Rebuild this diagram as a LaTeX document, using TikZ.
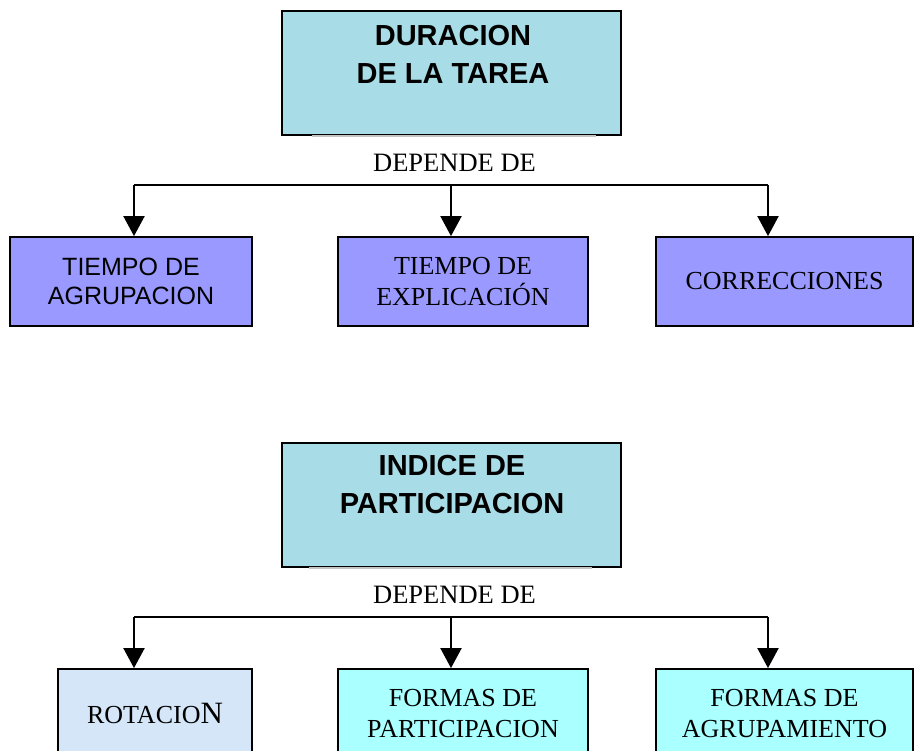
\documentclass[tikz,border=0pt]{standalone}
\usepackage{fontspec}
\setmainfont{Liberation Serif}
\setsansfont{Liberation Sans}
\usetikzlibrary{arrows.meta}

\definecolor{watercol}{HTML}{A8DCE6}
\definecolor{bluecol}{HTML}{9999FF}
\definecolor{cyancol}{HTML}{AAFFFF}
\definecolor{palecol}{HTML}{D4E6F8}
\definecolor{gapcol}{HTML}{C4C4C4}

\begin{document}
\begin{tikzpicture}[x=1pt,y=-1pt,
    titlebox/.style={draw,line width=1.8pt,fill=watercol,minimum width=339pt,minimum height=124pt,inner sep=0pt},
    titletext/.style={font=\sffamily\bfseries\fontsize{29}{38}\selectfont,align=center,inner sep=0pt},
    gapline/.style={gapcol,line width=1.9pt},
    deptext/.style={font=\fontsize{26.5}{30}\selectfont,inner sep=0pt},
    itembox/.style={draw,line width=1.8pt,minimum height=89pt,inner sep=0pt,align=center},
    sanstext/.style={font=\sffamily\fontsize{25}{29}\selectfont},
    serftext/.style={font=\fontsize{26}{31}\selectfont},
    link/.style={line width=2pt},
    arrow/.style={line width=2pt,-{Triangle[width=21pt,length=20pt]}}]
  \useasboundingbox (0,0) rectangle (914,751);

  % first tree
  \node[titlebox] (dur) at (451.5,73) {};
  \draw[gapline] ([xshift=31pt]dur.south west) -- ([xshift=-26pt]dur.south east);
  \node[titletext] (durtxt) at (453,54) {DURACION\\DE LA TAREA};
  \node[deptext] (dep1) at (454.5,162.5) {DEPENDE DE};

  \node[itembox,sanstext,fill=bluecol,minimum width=242pt] (agrup) at (131,281.5) {TIEMPO DE\\AGRUPACION};
  \node[itembox,serftext,fill=bluecol,minimum width=250pt] (explic) at (463,281.5) {TIEMPO DE\\EXPLICACIÓN};
  \node[itembox,serftext,fill=bluecol,minimum width=257pt] (correc) at (784.5,281.5) {CORRECCIONES};

  \coordinate (ja) at (134,185);
  \coordinate (jb) at (451,185);
  \coordinate (jc) at (768,185);
  \draw[link] (ja) -- (jc);
  \draw[arrow] (ja) -- (ja |- agrup.north);
  \draw[arrow] (jb) -- (jb |- explic.north);
  \draw[arrow] (jc) -- (jc |- correc.north);

  % second tree
  \node[titlebox] (indice) at (451.5,505) {};
  \draw[gapline] ([xshift=28pt]indice.south west) -- ([xshift=-30pt]indice.south east);
  \node[titletext] (indtxt) at (452,484.5) {INDICE DE\\PARTICIPACION};
  \node[deptext] (dep2) at (454.5,594.5) {DEPENDE DE};

  \node[itembox,serftext,fill=palecol,minimum width=194pt] (rot) at (155,713.5) {ROTACIO{\fontsize{31}{31}\selectfont N}};
  \node[itembox,serftext,fill=cyancol,minimum width=250pt] (part) at (463,713.5) {FORMAS DE\\PARTICIPACION};
  \node[itembox,serftext,fill=cyancol,minimum width=257pt] (grupo) at (784.5,713.5) {FORMAS DE\\AGRUPAMIENTO};

  \coordinate (ka) at (134,617);
  \coordinate (kb) at (451,617);
  \coordinate (kc) at (768,617);
  \draw[link] (ka) -- (kc);
  \draw[arrow] (ka) -- (ka |- rot.north);
  \draw[arrow] (kb) -- (kb |- part.north);
  \draw[arrow] (kc) -- (kc |- grupo.north);
\end{tikzpicture}
\end{document}
